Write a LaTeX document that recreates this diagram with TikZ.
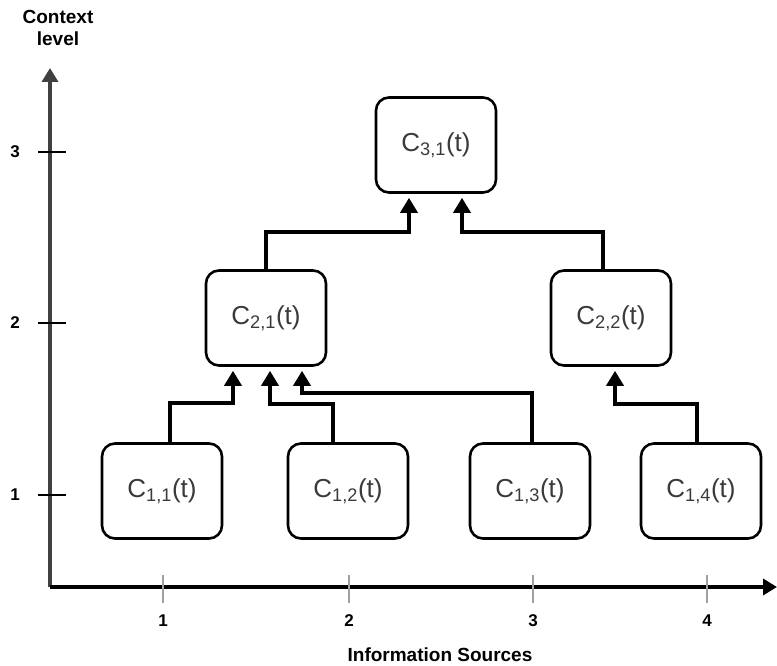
\documentclass[tikz,border=0pt]{standalone}
\usepackage{fontspec}
\setmainfont{Liberation Sans}
\usetikzlibrary{arrows.meta}
\definecolor{boxtext}{HTML}{3A3A3A}
\definecolor{yaxis}{HTML}{404040}
\definecolor{xtick}{HTML}{A0A0A0}
\begin{document}
\begin{tikzpicture}[x=1pt,y=-1pt,
  ctx/.style={draw=black,line width=2.6pt,rounded corners=13pt,
    minimum width=120pt,minimum height=95pt,inner sep=0pt,
    font=\fontsize{26}{28}\selectfont,text=boxtext},
  conn/.style={line width=3.6pt,-{Triangle[width=17pt,length=15pt]}},
  axis/.style={line width=4pt,-{Triangle[width=16pt,length=14pt]}},
  axlabel/.style={font=\fontsize{17}{19}\selectfont\bfseries},
  title/.style={font=\fontsize{19}{22}\selectfont\bfseries,align=center}]
\useasboundingbox (0,0) rectangle (777,666);

% axes
\coordinate (origin) at (50,587);
\coordinate (ytop) at (50,68);
\coordinate (xend) at (777,587);
\draw[axis,draw=yaxis,fill=yaxis] (origin) -- (ytop);
\draw[axis,draw=black] (origin) -- (xend);

% level ticks
\foreach \y/\l in {152/3,323/2,495/1}{
  \draw[line width=1.2pt] (38,\y) -- (66,\y);
  \node[axlabel] (lv\l) at (15,\y) {\l};
}
% source ticks
\foreach \x/\l in {163/1,349/2,533/3,707/4}{
  \draw[xtick,line width=1.6pt] (\x,575) -- (\x,603);
  \node[axlabel] (src\l) at (\x,621) {\l};
}
\node[title] (ylab) at (58,28) {Context\\level};
\node[title] (xlab) at (440,655) {Information Sources};

% context nodes
\node[ctx] (c31) at (436,145) {C\textsubscript{3,1}(t)};
\node[ctx] (c21) at (266,318) {C\textsubscript{2,1}(t)};
\node[ctx] (c22) at (611,318) {C\textsubscript{2,2}(t)};
\node[ctx] (c11) at (162,491) {C\textsubscript{1,1}(t)};
\node[ctx] (c12) at (348,491) {C\textsubscript{1,2}(t)};
\node[ctx] (c13) at (530,491) {C\textsubscript{1,3}(t)};
\node[ctx] (c14) at (701,491) {C\textsubscript{1,4}(t)};

% aggregation links
\draw[conn] (c21.north) -- ++(0,-37) -| ([xshift=-27pt,yshift=-4pt]c31.south);
\draw[conn] ([xshift=-8pt]c22.north) -- ++(0,-37) -| ([xshift=26pt,yshift=-4pt]c31.south);
\draw[conn] ([xshift=8pt]c11.north) -- ++(0,-39) -| ([xshift=-33pt,yshift=-4pt]c21.south);
\draw[conn] ([xshift=-15pt]c12.north) -- ++(0,-38) -| ([xshift=4pt,yshift=-4pt]c21.south);
\draw[conn] ([xshift=2pt]c13.north) -- ++(0,-49) -| ([xshift=36pt,yshift=-4pt]c21.south);
\draw[conn] ([xshift=-4pt]c14.north) -- ++(0,-38) -| ([xshift=4pt,yshift=-4pt]c22.south);
\end{tikzpicture}
\end{document}
